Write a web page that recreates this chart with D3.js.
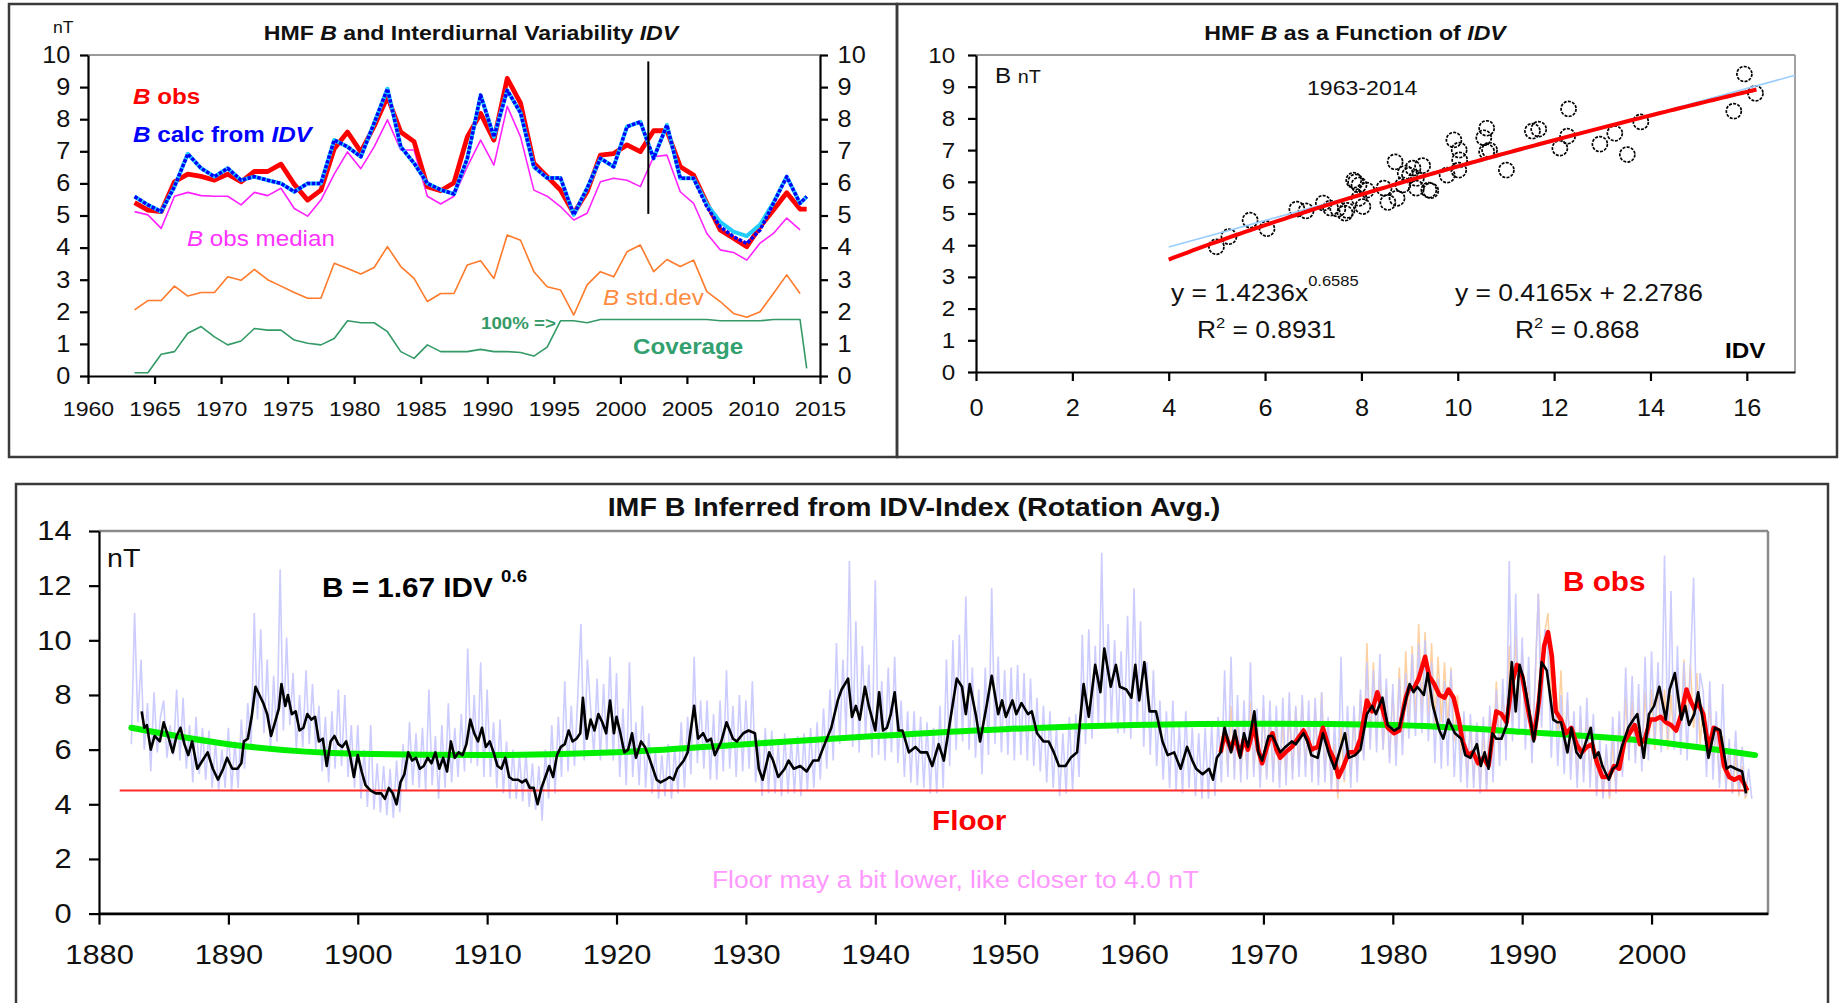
<!DOCTYPE html>
<html><head><meta charset="utf-8">
<script src="https://cdn.jsdelivr.net/npm/d3@7"></script>
<style>body{margin:0;background:#fff}svg{display:block}</style>
</head><body>
<script>
// ---------------- DATA: top-left panel (annual) ----------------
const tlYears = [1963.5,1964.5,1965.5,1966.5,1967.5,1968.5,1969.5,1970.5,1971.5,1972.5,1973.5,1974.5,1975.5,1976.5,1977.5,1978.5,1979.5,1980.5,1981.5,1982.5,1983.5,1984.5,1985.5,1986.5,1987.5,1988.5,1989.5,1990.5,1991.5,1992.5,1993.5,1994.5,1995.5,1996.5,1997.5,1998.5,1999.5,2000.5,2001.5,2002.5,2003.5,2004.5,2005.5,2006.5,2007.5,2008.5,2009.5,2010.5,2011.5,2012.5,2013.5,2014];
const bObs = [5.4,5.17,5.12,6.05,6.29,6.22,6.1,6.29,6.05,6.37,6.37,6.6,5.97,5.48,5.79,7.08,7.6,6.98,7.78,8.7,7.6,7.3,5.9,5.77,6.02,7.45,8.18,7.35,9.27,8.5,6.63,6.21,5.79,5.07,5.74,6.88,6.93,7.2,6.99,7.64,7.64,6.52,6.26,5.38,4.55,4.29,4.03,4.65,5.17,5.71,5.2,5.2];
const bCalcIDV = [5.59,5.33,5.12,5.9,6.92,6.47,6.21,6.47,6.1,6.21,6.1,6.0,5.74,6.0,6.0,7.35,7.14,6.83,7.88,8.95,7.14,6.63,6.0,5.8,5.67,6.78,8.75,7.45,8.9,8.2,6.52,6.17,6.17,5.02,5.85,6.78,6.52,7.77,7.92,6.78,7.82,6.16,6.16,5.27,4.65,4.34,4.13,4.55,5.38,6.21,5.38,5.59];
const bCalcIDV2 = [5.59,5.33,5.12,5.9,6.92,6.47,6.21,6.47,6.1,6.21,6.1,6.0,5.74,6.0,6.0,7.35,7.14,6.83,7.88,8.95,7.14,6.63,6.0,5.8,5.67,6.78,8.75,7.45,8.9,8.2,6.52,6.17,6.17,5.02,5.85,6.78,6.52,7.77,7.92,6.78,7.82,6.16,6.16,5.35,4.8,4.5,4.36,4.72,5.4,6.21,5.38,5.59];
const bObsMedian = [5.12,5.02,4.6,5.6,5.72,5.62,5.6,5.6,5.33,5.72,5.62,5.85,5.22,4.98,5.48,6.29,6.98,6.46,7.14,7.98,7.04,7.04,5.6,5.36,5.6,6.52,7.35,6.57,8.4,7.45,5.79,5.6,5.28,4.86,5.07,6.05,6.16,6.1,5.9,6.83,6.88,5.74,5.38,4.44,3.93,3.85,3.61,4.14,4.44,4.92,4.55,null];
const bStdDev = [2.06,2.35,2.35,2.8,2.49,2.6,2.6,3.09,2.98,3.32,3.0,2.8,2.6,2.42,2.42,3.51,3.35,3.18,3.38,4.03,3.41,3.04,2.32,2.57,2.57,3.46,3.59,3.04,4.39,4.23,3.25,2.78,2.68,1.9,2.84,3.25,3.09,3.87,4.08,3.25,3.63,3.41,3.61,2.63,2.32,1.95,1.83,2.0,2.57,3.15,2.57,null];
const coverage = [0.1,0.1,0.68,0.76,1.33,1.54,1.22,0.97,1.09,1.48,1.43,1.43,1.12,1.02,0.97,1.17,1.72,1.66,1.66,1.38,0.76,0.55,0.97,0.76,0.76,0.76,0.83,0.76,0.76,0.73,0.62,0.9,1.72,1.72,1.66,1.76,1.76,1.76,1.76,1.76,1.76,1.76,1.76,1.76,1.72,1.72,1.72,1.72,1.76,1.76,1.76,0.24];
const markerYear = 2002.1, markerFrom = 5.05, markerTo = 9.8;
const tlXTicks = [1960,1965,1970,1975,1980,1985,1990,1995,2000,2005,2010,2015];
const tlYTicks = [0,1,2,3,4,5,6,7,8,9,10];

// ---------------- DATA: top-right scatter ----------------
const scatterIDV = [4.99,5.25,5.69,6.04,6.66,6.85,7.21,7.36,7.51,7.66,7.84,7.88,7.95,7.95,8.03,8.11,8.47,8.7,8.74,8.91,9.07,9.14,9.14,9.4,9.27,9.0,9.78,9.92,10.03,10.04,10.02,10.54,10.6,10.66,10.6,11.01,11.55,11.68,12.12,12.28,12.3,12.95,13.26,13.52,13.8,15.73,15.95,16.18,8.86,9.44,8.55,7.7];
const scatterB = [3.95,4.27,4.79,4.52,5.14,5.08,5.33,5.17,5.14,5.01,6.05,6.0,5.9,5.48,5.22,5.74,5.8,6.63,5.48,6.27,6.43,6.11,5.8,5.74,6.51,6.21,6.21,7.32,7.0,6.69,6.37,7.39,7.69,7.0,6.95,6.37,7.6,7.66,7.06,7.44,8.3,7.19,7.53,6.86,7.89,8.23,9.4,8.79,5.9,5.72,5.35,5.1];
const powerFit = {a:1.4236, b:0.6585, from:4, to:16.2};
const linearFit = {m:0.4165, c:2.2786, from:4, to:17};
const trXTicks = [0,2,4,6,8,10,12,14,16];
const trYTicks = [0,1,2,3,4,5,6,7,8,9,10];

// ---------------- DATA: bottom panel ----------------
const rotStart = 1882.5, rotStep = 0.25;
const idvRotation = [6.2,11.0,
7.0,9.3,6.0,7.7, 5.2,8.1,5.9,7.2, 7.8,5.7,6.9,5.8, 8.2,5.6,7.9,5.3, 6.9,4.8,7.2,5.1,
6.8,4.9,6.7,4.6, 6.3,4.5,6.0,4.6, 6.8,4.5,6.3,4.6, 7.1,5.3,7.7,6.0, 11.0,7.1,10.4,6.6,
9.3,6.0,8.7,6.3, 12.6,6.7,10.1,6.9, 8.8,6.0,8.0,6.1, 8.9,6.2,8.4,6.0, 7.6,5.2,7.2,4.8,
7.4,5.3,8.2,5.4, 8.0,5.0,6.9,4.6, 6.9,4.2,6.0,3.9, 6.9,3.8,5.5,3.7, 5.4,3.6,5.3,3.5,
5.6,3.7,6.2,4.5, 7.0,4.7,6.6,4.6, 6.8,4.5,8.2,4.7, 6.5,4.2,6.9,4.6, 7.7,4.8,6.8,5.0,
7.3,5.2,9.7,5.5, 8.0,5.4,9.2,5.0, 8.2,5.0,7.0,4.6, 7.1,4.4,6.3,4.2, 6.0,4.2,5.8,4.1,
5.9,3.9,5.5,3.8, 5.4,3.4,6.0,4.2, 6.9,4.4,7.2,5.0, 8.5,5.2,7.6,5.4, 7.9,10.6,5.6,9.3,
7.5,5.8,8.6,5.6, 8.4,5.9,9.4,5.6, 8.8,5.0,7.5,4.7, 9.2,5.0,7.0,4.7, 7.6,4.6,6.6,4.4,
6.0,4.2,5.8,4.3, 6.2,4.2,6.1,4.4, 7.0,4.6,7.2,5.1, 9.4,5.5,7.8,5.3, 7.8,4.9,7.3,4.9,
7.8,5.2,8.9,5.3, 7.6,5.0,8.0,5.2, 7.8,5.3,8.5,4.8, 6.4,4.3,6.8,4.4, 6.7,4.4,6.2,4.3,
6.6,4.4,6.4,4.4, 6.5,4.3,6.6,4.5, 6.8,4.6,7.0,4.9, 7.5,5.3,8.2,5.6, 9.9,6.2,9.3,6.5,
12.9,6.1,10.7,5.9, 9.8,6.4,9.1,5.7, 12.2,5.8,8.5,5.6, 9.0,5.9,9.4,5.5, 7.8,5.0,7.4,4.8,
7.4,4.7,7.2,4.6, 7.0,4.4,6.8,4.4, 7.6,4.6,9.3,5.4, 10.0,6.0,10.2,6.3, 11.6,6.0,9.0,5.7,
8.2,5.1,9.0,5.8, 11.9,6.2,9.4,5.9, 8.9,5.8,9.0,5.6, 9.1,5.8,8.8,5.6, 8.6,5.4,7.9,5.2,
7.6,4.8,7.4,4.6, 6.8,4.3,6.6,4.4, 7.2,4.5,7.3,5.0, 10.2,6.2,10.4,6.4, 9.8,6.9,13.2,6.8,
10.6,7.0,10.0,6.6, 9.6,6.6,10.9,6.4, 11.9,6.8,10.7,6.1, 9.2,5.8,8.9,5.4, 7.8,4.9,7.4,4.6,
7.8,4.5,6.9,4.4, 7.4,4.6,6.8,4.3, 6.6,4.2,6.8,4.2, 6.9,4.3,7.2,4.8, 8.9,5.0,9.4,4.9,
8.0,4.8,7.8,4.9, 9.2,5.0,7.5,4.6, 8.0,4.9,7.8,4.8, 7.6,4.6,7.9,4.7, 8.1,4.9,7.6,5.0,
8.0,5.0,7.8,4.8, 7.9,4.7,8.1,4.8, 7.2,4.5,7.0,4.4, 9.4,4.9,7.6,4.6, 7.6,4.8,8.2,5.6,
9.2,6.0,8.9,5.9, 9.5,6.0,8.6,5.5, 8.4,5.4,8.6,5.8, 8.8,6.4,9.5,6.5, 9.9,6.6,10.0,6.3,
9.2,5.5,8.6,5.3, 8.5,5.4,8.9,5.0, 7.6,4.8,7.4,4.6, 7.3,4.6,7.0,4.4, 7.2,4.5,7.6,4.8,
8.2,5.4,8.6,5.6, 12.9,6.3,11.7,6.6, 10.1,6.0,9.4,5.5, 8.6,11.7,6.8,10.4, 9.6,5.7,8.6,5.4,
8.0,5.1,8.1,4.9, 7.4,4.6,7.6,4.8, 7.9,4.6,7.3,4.3, 6.4,4.2,6.2,4.3, 7.2,4.4,7.4,5.0,
9.0,5.6,8.7,5.5, 8.4,5.2,9.4,5.6, 9.6,6.2,9.2,5.9, 13.1,6.4,11.8,6.0, 9.8,5.8,9.2,5.6,
9.0,12.3,6.2,8.8, 8.1,5.0,8.5,4.9, 7.4,4.6,8.4,4.5, 6.4,4.4,6.7,4.4, 6.1,4.3,5.3,4.2];

const obsStart = 1966.75;
const obsRotation = [6.2,
7.0,5.2,7.6,5.3, 7.2,5.1,7.0,5.2, 7.8,5.2,6.9,4.9, 7.5,5.0,7.2,5.1, 6.9,4.9,7.0,5.0,
7.4,5.2,7.5,5.4, 7.8,5.4,7.2,5.1, 7.6,5.0,8.1,5.2, 6.9,4.7,6.2,4.2, 6.8,4.8,7.0,5.0,
7.2,5.2,8.0,5.8, 9.9,6.3,9.2,6.4, 8.6,6.0,8.3,5.7, 8.1,5.8,9.0,6.3, 9.6,6.9,9.8,7.0,
10.6,7.4,10.3,7.2, 9.9,6.9,9.4,7.0, 9.2,6.8,9.0,6.3, 8.0,5.6,7.2,5.0, 6.8,4.9,6.9,4.6,
6.6,4.7,7.4,5.6, 8.5,6.2,8.0,6.0, 9.8,7.0,10.2,7.4, 9.6,7.0,8.4,6.0, 8.5,11.7,8.2,10.3,
11.0,7.8,8.9,6.5, 8.9,5.8,7.8,5.6, 7.0,5.0,7.2,5.1, 7.1,5.2,6.5,4.6, 5.9,4.3,6.0,4.2,
6.3,4.5,6.9,5.2, 7.9,5.9,7.8,5.8, 7.6,5.5,8.1,5.9, 8.2,6.0,8.5,6.1, 8.2,6.0,8.0,6.2,
9.0,6.6,9.3,7.0, 9.1,6.8,8.8,6.2, 7.6,5.5,7.8,5.6, 6.8,4.8,6.5,4.6, 6.0,4.4,5.8,4.3,
5.4,4.2,4.6];

const idvSmooth = [[1883.3,7.4],[1883.5,6.8],[1883.7,6.9],[1884.0,6.0],[1884.3,6.5],[1884.7,6.3],[1885.0,7.0],[1885.4,6.4],[1885.7,5.9],[1886.0,6.5],[1886.3,6.8],[1886.6,6.2],[1886.9,5.8],[1887.2,6.3],[1887.6,5.3],[1888.0,5.6],[1888.4,5.9],[1888.8,5.3],[1889.2,4.9],[1889.6,5.3],[1889.9,5.7],[1890.3,5.3],[1890.7,5.3],[1891.0,5.5],[1891.2,6.3],[1891.5,6.4],[1891.8,7.2],[1892.1,8.3],[1892.4,8.0],[1892.7,7.7],[1893.0,7.3],[1893.3,6.5],[1893.6,7.0],[1893.9,7.5],[1894.1,8.4],[1894.4,7.6],[1894.6,8.0],[1894.9,7.3],[1895.2,7.4],[1895.5,6.7],[1895.8,6.8],[1896.1,7.3],[1896.4,7.1],[1896.7,7.2],[1897.0,6.3],[1897.3,6.4],[1897.6,5.4],[1897.9,6.3],[1898.2,6.5],[1898.5,6.2],[1898.8,6.1],[1899.1,6.3],[1899.4,5.8],[1899.7,5.0],[1900.0,5.8],[1900.3,5.2],[1900.6,4.7],[1901.0,4.5],[1901.4,4.4],[1901.8,4.4],[1902.1,4.2],[1902.4,4.6],[1902.7,4.4],[1903.0,4.0],[1903.3,4.8],[1903.6,5.1],[1903.9,5.9],[1904.2,5.6],[1904.5,5.7],[1904.8,5.3],[1905.1,5.4],[1905.4,5.7],[1905.7,5.5],[1906.0,5.9],[1906.3,5.3],[1906.6,5.7],[1906.9,5.2],[1907.2,6.3],[1907.5,5.7],[1907.8,5.9],[1908.1,5.8],[1908.4,6.2],[1908.7,7.1],[1909.0,6.6],[1909.3,6.3],[1909.6,6.8],[1909.9,6.1],[1910.2,6.3],[1910.5,5.9],[1910.8,5.4],[1911.1,5.3],[1911.4,5.7],[1911.7,5.0],[1912.0,4.9],[1912.4,4.9],[1912.7,4.8],[1913.0,4.9],[1913.3,4.6],[1913.6,4.6],[1913.9,4.0],[1914.2,4.6],[1914.5,5.0],[1914.8,5.4],[1915.1,5.0],[1915.4,5.8],[1915.7,6.1],[1916.0,6.2],[1916.3,6.7],[1916.6,6.3],[1916.9,6.4],[1917.2,6.6],[1917.4,7.9],[1917.7,6.4],[1918.0,7.1],[1918.3,6.7],[1918.6,7.3],[1918.9,7.0],[1919.2,6.6],[1919.5,7.8],[1919.8,6.6],
[1920.0,7.2],[1920.3,6.6],[1920.6,5.9],[1920.9,6.0],[1921.2,6.6],[1921.5,5.7],[1921.9,6.3],[1922.2,6.1],[1922.6,5.6],[1923.1,4.9],[1923.4,4.8],[1923.8,4.9],[1924.1,5.0],[1924.4,4.9],[1924.7,5.3],[1925.2,5.6],[1925.5,5.9],[1926.0,7.6],[1926.3,6.4],[1926.7,6.6],[1927.0,6.3],[1927.3,6.4],[1927.6,5.8],[1928.1,6.3],[1928.5,7.0],[1929.0,6.4],[1929.3,6.3],[1929.8,6.6],[1930.2,6.7],[1930.7,6.6],[1931.0,5.3],[1931.3,4.9],[1931.8,5.9],[1932.1,5.6],[1932.5,5.0],[1933.0,5.3],[1933.3,5.6],[1933.7,5.3],[1934.2,5.4],[1934.7,5.2],[1935.2,5.6],[1935.6,5.6],[1936.0,6.1],[1936.6,6.8],[1937.1,7.8],[1937.4,8.2],[1937.9,8.6],[1938.2,7.2],[1938.5,7.6],[1938.8,7.1],[1939.2,8.3],[1939.5,7.6],[1940.0,6.7],[1940.3,8.1],[1940.6,6.7],[1940.9,6.8],[1941.2,7.3],[1941.5,8.1],[1941.8,6.7],[1942.1,6.7],[1942.6,5.9],[1943.1,6.1],[1943.5,5.9],[1944.0,5.9],[1944.4,5.4],[1944.9,6.2],[1945.3,5.6],[1945.8,7.1],[1946.3,8.6],[1946.7,8.3],[1947.0,7.3],[1947.3,8.4],[1947.8,7.2],[1948.1,6.3],[1948.6,7.6],[1949.0,8.7],[1949.5,7.3],[1949.8,7.8],[1950.1,7.2],[1950.6,7.8],[1950.9,7.3],[1951.3,7.7],[1951.8,7.3],[1952.1,7.4],[1952.5,6.6],[1953.0,6.3],[1953.4,6.3],[1953.8,5.9],[1954.2,5.4],[1954.7,5.4],[1955.1,5.7],[1955.6,5.9],[1956.1,8.4],[1956.5,7.2],[1957.0,9.1],[1957.4,8.1],[1957.7,9.7],[1958.2,8.3],[1958.6,9.1],[1958.9,8.3],[1959.4,8.2],[1959.8,7.9],[1960.1,9.1],[1960.4,7.8],[1960.8,9.2],[1961.2,7.4],[1961.7,7.4],[1962.2,6.3],[1962.6,5.8],[1963.1,5.9],[1963.6,5.3],[1964.1,6.1],[1964.5,5.6],[1964.8,5.3],[1965.3,5.1],[1965.8,5.3],[1966.1,4.9],[1966.4,5.7],
[1966.7,5.9],[1967.0,6.8],[1967.5,5.9],[1967.8,6.7],[1968.2,5.7],[1968.5,6.6],[1968.8,6.1],[1969.3,7.4],[1969.6,5.9],[1969.9,5.6],[1970.4,6.5],[1970.7,6.5],[1971.0,6.2],[1971.3,5.9],[1971.7,6.1],[1972.2,6.3],[1972.5,6.2],[1972.8,6.4],[1973.1,6.6],[1973.4,6.3],[1973.7,5.8],[1974.2,5.7],[1974.6,6.6],[1975.1,5.8],[1975.5,5.3],[1975.8,5.8],[1976.3,6.6],[1976.6,5.7],[1977.1,5.8],[1977.5,6.0],[1978.0,7.3],[1978.4,7.6],[1978.7,7.3],[1979.2,7.9],[1979.6,6.9],[1980.1,6.7],[1980.5,6.8],[1981.0,7.8],[1981.3,8.4],[1981.6,8.1],[1981.9,8.3],[1982.4,8.0],[1982.7,8.8],[1983.1,7.6],[1983.6,6.7],[1983.9,6.4],[1984.3,7.1],[1984.8,6.6],[1985.3,6.4],[1985.6,5.8],[1986.0,5.7],[1986.5,6.2],[1986.8,5.4],[1987.1,5.9],[1987.4,5.3],[1987.7,6.6],[1988.0,6.4],[1988.4,6.4],[1988.8,6.9],[1989.2,9.2],[1989.5,7.4],[1989.8,9.1],[1990.1,8.6],[1990.4,7.8],[1990.9,6.3],[1991.2,7.3],[1991.5,9.2],[1991.9,8.9],[1992.4,7.1],[1992.7,7.0],[1993.0,7.0],[1993.5,5.9],[1993.8,6.8],[1994.2,5.9],[1994.5,5.7],[1994.8,6.1],[1995.3,6.8],[1995.6,5.7],[1995.9,5.9],[1996.2,5.4],[1996.7,4.9],[1997.0,5.3],[1997.3,5.4],[1997.7,6.1],[1998.2,6.8],[1998.6,7.1],[1998.9,7.3],[1999.4,5.7],[1999.8,7.3],[2000.2,7.6],[2000.6,8.3],[2001.1,7.1],[2001.4,8.2],[2001.8,8.8],[2002.3,7.1],[2002.6,7.6],[2002.9,6.9],[2003.3,7.3],[2003.6,8.1],[2004.1,6.7],[2004.4,5.7],[2004.9,6.8],[2005.3,6.7],[2005.8,5.3],[2006.1,5.4],[2006.5,5.3],[2007.0,5.2],[2007.3,4.4]];

const obsSmooth = [[1966.7,5.9],[1967.0,6.6],[1967.5,6.0],[1967.8,6.5],[1968.2,5.8],[1968.5,6.4],[1968.8,6.0],[1969.3,6.9],[1969.6,6.0],[1969.9,5.5],[1970.4,6.3],[1970.7,6.6],[1971.0,6.0],[1971.3,5.7],[1971.7,5.9],[1972.2,6.1],[1972.5,6.3],[1972.8,6.5],[1973.1,6.7],[1973.4,6.4],[1973.7,6.0],[1974.2,6.1],[1974.6,6.8],[1975.1,6.0],[1975.5,5.6],[1975.8,5.0],[1976.2,5.4],[1976.6,5.9],[1977.1,5.9],[1977.5,6.4],[1978.0,7.8],[1978.4,7.4],[1978.8,8.1],[1979.2,7.5],[1979.6,6.8],[1980.1,6.6],[1980.5,6.7],[1981.0,7.9],[1981.3,8.3],[1981.6,8.2],[1982.0,8.6],[1982.5,9.4],[1982.8,8.7],[1983.2,8.4],[1983.6,8.0],[1984.0,7.9],[1984.3,8.2],[1984.7,7.9],[1985.1,7.1],[1985.4,6.3],[1985.8,5.8],[1986.2,5.9],[1986.6,5.5],[1987.0,5.7],[1987.4,5.4],[1987.7,6.5],[1988.0,7.4],[1988.4,7.3],[1988.8,7.0],[1989.2,8.4],[1989.6,9.1],[1990.0,8.7],[1990.4,7.6],[1990.9,6.4],[1991.3,7.8],[1991.7,9.8],[1992.0,10.3],[1992.3,9.4],[1992.6,7.4],[1993.0,7.1],[1993.4,6.6],[1993.8,6.8],[1994.2,6.2],[1994.6,5.9],[1995.0,6.1],[1995.4,6.2],[1995.8,5.5],[1996.2,5.0],[1996.7,5.0],[1997.1,5.4],[1997.5,5.3],[1997.9,6.3],[1998.3,6.6],[1998.7,6.9],[1999.1,6.2],[1999.5,6.4],[1999.9,7.1],[2000.3,7.1],[2000.7,7.2],[2001.1,7.0],[2001.5,6.9],[2001.9,6.7],[2002.3,7.3],[2002.7,8.2],[2003.0,7.8],[2003.3,7.5],[2003.6,7.7],[2004.0,7.3],[2004.4,6.0],[2004.8,6.8],[2005.2,6.7],[2005.6,5.4],[2006.0,5.0],[2006.4,4.9],[2006.8,5.0],[2007.1,4.8],[2007.4,4.5]];

const trendYears = [1882.5,1890,1900,1910,1920,1930,1940,1950,1960,1970,1980,1990,2000,2008];
const trendVals  = [6.8,6.2,5.85,5.8,5.9,6.2,6.5,6.75,6.9,6.95,6.9,6.65,6.3,5.8];
const floorLevel = 4.5, floorFrom = 1881.6, floorTo = 2007.4;
const btXTicks = [1880,1890,1900,1910,1920,1930,1940,1950,1960,1970,1980,1990,2000];
const btYTicks = [0,2,4,6,8,10,12,14];

// ---------------- DRAWING ----------------
const W = 1839, H = 1003, SX = 1.1;
const FONT = '"Liberation Sans", Arial, Helvetica, sans-serif';
const svg = d3.select("body").append("svg").attr("width", W).attr("height", H).style("font-family", FONT);
svg.append("rect").attr("width", W).attr("height", H).attr("fill", "#fff");

function label(x, y, parts, o = {}) {
  const t = svg.append("text")
    .attr("transform", `translate(${x},${y}) scale(${o.sx || SX},1)`)
    .attr("text-anchor", o.anchor || "start")
    .attr("font-size", o.size || 20)
    .attr("font-weight", o.bold ? "bold" : "normal")
    .attr("fill", o.fill || "#000");
  if (typeof parts === "string") parts = [{t: parts}];
  parts.forEach(p => {
    const s = t.append("tspan").text(p.t);
    if (p.italic) s.attr("font-style", "italic");
    if (p.size) s.attr("font-size", p.size);
    if (p.dy) s.attr("dy", p.dy);
    if (p.bold !== undefined) s.attr("font-weight", p.bold ? "bold" : "normal");
  });
  return t;
}
function styleAxis(g, size) {
  g.attr("font-family", FONT);
  g.select(".domain").attr("stroke", "#000").attr("stroke-width", 2.2);
  g.selectAll(".tick line").attr("stroke", "#000").attr("stroke-width", 2.2);
  g.selectAll(".tick text").attr("font-size", size).attr("fill", "#111").attr("transform", `scale(${SX},1)`);
}
function hline(x1, x2, y, color, w) { svg.append("line").attr("x1", x1).attr("x2", x2).attr("y1", y).attr("y2", y).attr("stroke", color).attr("stroke-width", w); }
function vline(x, y1, y2, color, w) { svg.append("line").attr("x1", x).attr("x2", x).attr("y1", y1).attr("y2", y2).attr("stroke", color).attr("stroke-width", w); }

// panel frames
[[9, 4, 888, 453], [897, 4, 940, 453], [16, 484, 1812, 560]].forEach(r =>
  svg.append("rect").attr("x", r[0]).attr("y", r[1]).attr("width", r[2]).attr("height", r[3])
    .attr("fill", "none").attr("stroke", "#3a3a3a").attr("stroke-width", 2.5));

// ===== Top-left =====
const x1 = d3.scaleLinear().domain([1960, 2015]).range([88, 820]);
const y1 = d3.scaleLinear().domain([0, 10]).range([376, 55]);
hline(88, 820, 55, "#9a9a9a", 1.8);
styleAxis(svg.append("g").attr("transform", "translate(0,376)")
  .call(d3.axisBottom(x1).tickValues(tlXTicks).tickFormat(d3.format("d")).tickSize(8).tickPadding(17).tickSizeOuter(0)), 21);
styleAxis(svg.append("g").attr("transform", "translate(88,0)")
  .call(d3.axisLeft(y1).tickValues(tlYTicks).tickSize(8).tickPadding(8).tickSizeOuter(0)), 23);
styleAxis(svg.append("g").attr("transform", "translate(820,0)")
  .call(d3.axisRight(y1).tickValues(tlYTicks).tickSize(8).tickPadding(8).tickSizeOuter(0)), 23);

const tlLine = d3.line().defined(d => d != null).x((d, i) => x1(tlYears[i])).y(d => y1(d));
function tlPath(vals, color, w, dash) {
  const p = svg.append("path").attr("d", tlLine(vals)).attr("fill", "none").attr("stroke", color)
    .attr("stroke-width", w).attr("stroke-linejoin", "round");
  if (dash) p.attr("stroke-dasharray", dash);
}
tlPath(coverage, "#339966", 1.6);
tlPath(bStdDev, "#ff7a2a", 1.6);
tlPath(bObsMedian, "#ff22ff", 1.6);
tlPath(bObs, "#ff0000", 4.8);
tlPath(bCalcIDV2, "#22ccff", 4);
tlPath(bCalcIDV, "#0000ff", 3.5, "3.5,1.5");
vline(x1(markerYear), y1(markerTo), y1(markerFrom), "#000", 2);

label(471, 39.5, [{t: "HMF "}, {t: "B", italic: true}, {t: "  and Interdiurnal Variability "}, {t: "IDV", italic: true}], {anchor: "middle", size: 21, bold: true, fill: "#111"});
label(53, 33, "nT", {size: 16, fill: "#111"});
label(133, 104, [{t: "B", italic: true}, {t: " obs"}], {size: 22, bold: true, fill: "#ff0000"});
label(133, 141.5, [{t: "B", italic: true}, {t: " calc from "}, {t: "IDV", italic: true}], {size: 22, bold: true, fill: "#0000ff"});
label(187, 246, [{t: "B", italic: true}, {t: "  obs median"}], {size: 22, fill: "#ff33ff"});
label(603, 305, [{t: "B", italic: true}, {t: "  std.dev"}], {size: 22, fill: "#ff8c40"});
label(481, 329, "100% =>", {size: 17, bold: true, fill: "#339966"});
label(633, 354, "Coverage", {size: 22, bold: true, fill: "#33a070"});

// ===== Top-right scatter =====
const x2 = d3.scaleLinear().domain([0, 17]).range([976, 1795]);
const y2 = d3.scaleLinear().domain([0, 10]).range([372, 55]);
hline(976, 1795, 55, "#9a9a9a", 1.8);
vline(1795, 55, 372, "#9a9a9a", 1.8);
styleAxis(svg.append("g").attr("transform", "translate(0,372)")
  .call(d3.axisBottom(x2).tickValues(trXTicks).tickSize(9).tickPadding(19).tickSizeOuter(0)), 23);
styleAxis(svg.append("g").attr("transform", "translate(976,0)")
  .call(d3.axisLeft(y2).tickValues(trYTicks).tickSize(8).tickPadding(11).tickSizeOuter(0)), 22);

const pts = scatterIDV.map((v, i) => [v, scatterB[i]]);
svg.append("g").selectAll("circle").data(pts).join("circle")
  .attr("cx", d => x2(d[0])).attr("cy", d => y2(d[1])).attr("r", 7.5)
  .attr("fill", "none").attr("stroke", "#000").attr("stroke-width", 1.7).attr("stroke-dasharray", "3,1.3");
const lin = [linearFit.from, linearFit.to].map(v => [v, linearFit.m * v + linearFit.c]);
svg.append("path").attr("d", d3.line().x(d => x2(d[0])).y(d => y2(d[1]))(lin))
  .attr("fill", "none").attr("stroke", "#99ccff").attr("stroke-width", 1.6);
const pw = d3.range(powerFit.from, powerFit.to + 1e-9, 0.1).map(v => [v, powerFit.a * Math.pow(v, powerFit.b)]);
svg.append("path").attr("d", d3.line().x(d => x2(d[0])).y(d => y2(d[1]))(pw))
  .attr("fill", "none").attr("stroke", "#ff0000").attr("stroke-width", 4);

label(1355, 39.5, [{t: "HMF "}, {t: "B", italic: true}, {t: "  as a Function of "}, {t: "IDV", italic: true}], {anchor: "middle", size: 21, bold: true, fill: "#111"});
label(995, 83, [{t: "B ", size: 22}, {t: "nT", size: 18}], {fill: "#111"});
label(1307, 95, "1963-2014", {size: 21, fill: "#111"});
label(1171, 301, [{t: "y = 1.4236x"}, {t: "0.6585", size: 15, dy: -15}], {size: 24, fill: "#111"});
label(1197, 338, [{t: "R"}, {t: "2", size: 15, dy: -10}, {t: " = 0.8931", dy: 10}], {size: 24, fill: "#111"});
label(1455, 301, "y = 0.4165x + 2.2786", {size: 24, fill: "#111"});
label(1515, 338, [{t: "R"}, {t: "2", size: 15, dy: -10}, {t: " = 0.868", dy: 10}], {size: 24, fill: "#111"});
label(1725, 358, "IDV", {size: 22, bold: true, fill: "#000"});

// ===== Bottom =====
const x3 = d3.scaleLinear().domain([1880, 2009]).range([99, 1768]);
const y3 = d3.scaleLinear().domain([0, 14]).range([913.6, 531]);
hline(99, 1768, 531, "#8a8a8a", 2.5);
vline(1768, 531, 913.6, "#8a8a8a", 2.5);

const rotLine = (start) => d3.line().x((d, i) => x3(start + i * rotStep)).y(d => y3(d));
svg.append("path").attr("d", rotLine(obsStart)(obsRotation)).attr("fill", "none").attr("stroke", "#ffd0a0").attr("stroke-width", 1.5);
svg.append("path").attr("d", rotLine(rotStart)(idvRotation)).attr("fill", "none").attr("stroke", "#c6c6ff").attr("stroke-width", 1.6).attr("stroke-opacity", 0.9);
hline(x3(floorFrom), x3(floorTo), y3(floorLevel), "#ff2a2a", 2);
svg.append("path").attr("d", d3.line().curve(d3.curveMonotoneX).x((d, i) => x3(trendYears[i])).y(d => y3(d))(trendVals))
  .attr("fill", "none").attr("stroke", "#00ee00").attr("stroke-width", 6).attr("stroke-linecap", "round");
const pairLine = d3.line().x(d => x3(d[0])).y(d => y3(d[1]));
svg.append("path").attr("d", pairLine(obsSmooth)).attr("fill", "none").attr("stroke", "#ff0000").attr("stroke-width", 4.5).attr("stroke-linejoin", "round");
svg.append("path").attr("d", pairLine(idvSmooth)).attr("fill", "none").attr("stroke", "#000").attr("stroke-width", 2.6).attr("stroke-linejoin", "round");

styleAxis(svg.append("g").attr("transform", "translate(0,913.6)")
  .call(d3.axisBottom(x3).tickValues(btXTicks).tickFormat(d3.format("d")).tickSize(11).tickPadding(20).tickSizeOuter(0)), 28);
styleAxis(svg.append("g").attr("transform", "translate(99,0)")
  .call(d3.axisLeft(y3).tickValues(btYTicks).tickSize(10).tickPadding(15).tickSizeOuter(0)), 28);
hline(99, 1768, 913.6, "#000", 2.2);

label(914, 516, "IMF B Inferred from IDV-Index (Rotation Avg.)", {anchor: "middle", size: 26, bold: true, fill: "#111"});
label(107, 567, "nT", {size: 26, fill: "#111"});
label(322, 597, [{t: "B = 1.67 IDV "}, {t: "0.6", size: 17, dy: -15}], {size: 27, bold: true, fill: "#000"});
label(1563, 591, "B obs", {size: 27, bold: true, fill: "#ff0000"});
label(932, 830, "Floor", {size: 27, bold: true, fill: "#ff0000"});
label(712, 888, "Floor may a bit lower, like closer to 4.0 nT", {size: 24, fill: "#ff99ff"});
</script>
</body></html>
